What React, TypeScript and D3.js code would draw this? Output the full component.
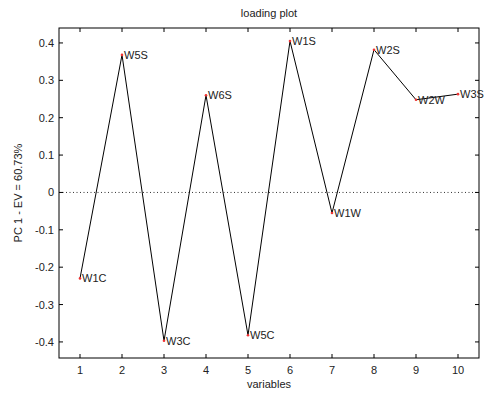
import React from "react";
import * as d3 from "d3";

const variables = [1, 2, 3, 4, 5, 6, 7, 8, 9, 10];
const loadings = [-0.23, 0.368, -0.397, 0.26, -0.382, 0.405, -0.055, 0.382, 0.248, 0.263];
const names = ["W1C", "W5S", "W3C", "W6S", "W5C", "W1S", "W1W", "W2S", "W2W", "W3S"];
const yTicks = [-0.4, -0.3, -0.2, -0.1, 0, 0.1, 0.2, 0.3, 0.4];
const xTicks = [1, 2, 3, 4, 5, 6, 7, 8, 9, 10];

const W = 487, H = 394;
const L = 59, R = 479, T = 28, B = 358;

export default function App() {
  const x = d3.scaleLinear().domain([0.5, 10.5]).range([L, R]);
  const y = d3.scaleLinear().domain([-0.443, 0.44]).range([B, T]);
  const line = d3.line<number>().x((_, i) => x(variables[i])).y((d) => y(d));
  const font = "Liberation Sans, Arial, sans-serif";
  const tl = 4;
  return (
    <svg width={W} height={H} style={{ position: "absolute", left: 0, top: 0, background: "#fff" }} fontFamily={font}>
      <rect x={0} y={0} width={W} height={H} fill="#fff" />
      <line x1={L} x2={R} y1={y(0)} y2={y(0)} stroke="#333" strokeDasharray="1,2.5" strokeWidth={1} />
      {xTicks.map((t) => (
        <g key={"x" + t}>
          <line x1={x(t)} x2={x(t)} y1={B} y2={B - tl} stroke="#000" />
          <line x1={x(t)} x2={x(t)} y1={T} y2={T + tl} stroke="#000" />
          <text x={x(t)} y={B + 16} fontSize={11} textAnchor="middle" fill="#222">{t}</text>
        </g>
      ))}
      {yTicks.map((t) => (
        <g key={"y" + t}>
          <line x1={L} x2={L + tl} y1={y(t)} y2={y(t)} stroke="#000" />
          <line x1={R} x2={R - tl} y1={y(t)} y2={y(t)} stroke="#000" />
          <text x={L - 5} y={y(t) + 4} fontSize={11} textAnchor="end" fill="#222">{t === 0 ? "0" : t.toFixed(1)}</text>
        </g>
      ))}
      <rect x={L} y={T} width={R - L} height={B - T} fill="none" stroke="#000" strokeWidth={1} />
      <path d={line(loadings) || ""} fill="none" stroke="#000" strokeWidth={1} />
      {loadings.map((v, i) => (
        <g key={"p" + i}>
          <circle cx={x(variables[i])} cy={y(v)} r={1.3} fill="#e33" />
          <text x={x(variables[i]) + 2} y={y(v) + 4} fontSize={11} fill="#222">{names[i]}</text>
        </g>
      ))}
      <text x={269} y={17} fontSize={11} textAnchor="middle" fill="#222">loading plot</text>
      <text x={269} y={388} fontSize={11} textAnchor="middle" fill="#222">variables</text>
      <text transform={`translate(22,${(T + B) / 2}) rotate(-90)`} fontSize={11} textAnchor="middle" fill="#222">PC 1 - EV = 60.73%</text>
    </svg>
  );
}
